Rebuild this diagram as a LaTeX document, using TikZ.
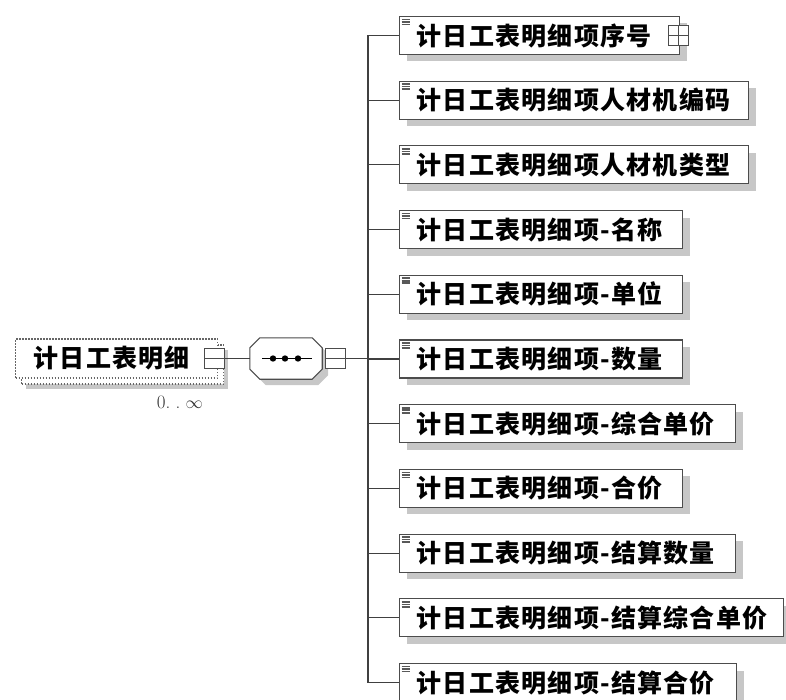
\documentclass[tikz,border=0pt]{standalone}
\usepackage{fontspec}
\newfontfamily\cjk{Noto Sans CJK SC}[LetterSpace=5]
\usetikzlibrary{positioning,shadows}

\begin{document}
\begin{tikzpicture}[
  x=1pt, y=-1pt,
  every node/.style={font=\cjk\bfseries\fontsize{25pt}{27pt}\selectfont},
  elem/.style={draw=black!70, line width=1.1pt, fill=white, anchor=west,
    minimum height=38pt, inner xsep=17pt, inner ysep=0pt, align=left,
    drop shadow={shadow xshift=7pt, shadow yshift=-7pt, fill=black!22, opacity=1},
    path picture={
      \foreach \d in {3,5.5,8}
        \draw[black!65, line width=1.6pt]
          ([shift={(2pt,-\d pt)}]path picture bounding box.north west) -- ++(8,0);
    }},
  multi/.style={draw=black!60, line width=1.2pt, dash pattern=on 1.5pt off 1.5pt,
    fill=white, anchor=west, minimum height=39pt, inner xsep=18pt, inner ysep=0pt,
    align=left,
    general shadow={shadow xshift=10pt, shadow yshift=-11pt, fill=black!22},
    general shadow={shadow xshift=6pt, shadow yshift=-6pt, fill=white,
      draw=black!60, line width=1.2pt, dash pattern=on 1.5pt off 1.5pt}},
  seq/.style={minimum width=72pt, minimum height=41pt, inner sep=0pt},
  octo/.style={draw=black!70, line width=1.1pt, fill=white,
    drop shadow={shadow xshift=6pt, shadow yshift=-6pt, fill=black!22, opacity=1}},
  tog/.style={draw=black!70, line width=1pt, fill=white, minimum width=20pt,
    minimum height=20pt, inner sep=0pt},
  minus/.style={tog, path picture={
    \draw[black!70, line width=1pt] (path picture bounding box.west) -- (path picture bounding box.east);}},
  plus/.style={tog, path picture={
    \draw[black!70, line width=1pt] (path picture bounding box.west) -- (path picture bounding box.east)
      (path picture bounding box.north) -- (path picture bounding box.south);}},
  lab/.style={font=\fontsize{19pt}{19pt}\selectfont, inner sep=0pt, text=black!80},
  conn/.style={draw=black!75, line width=1.1pt}
]
  \useasboundingbox (0,0) rectangle (786,700);

  % root element and sequence
  \node[multi, text width=166pt] (root) at (15,358.5) {计日工表明细};
  \node[minus, right=-14pt of root] (rtog) {};
  \node[lab, below left=17pt and 15pt of root.south east] (occ) {0.\;.\;$\infty$};

  \node[seq] (sq) at (286,358.5) {};
  \draw[octo] ([xshift=10pt]sq.north west) -- ([xshift=-10pt]sq.north east)
    -- ([yshift=-10pt]sq.north east) -- ([yshift=10pt]sq.south east)
    -- ([xshift=-10pt]sq.south east) -- ([xshift=10pt]sq.south west)
    -- ([yshift=10pt]sq.south west) -- ([yshift=-10pt]sq.north west) -- cycle;
  \node[minus, right=3pt of sq] (stog) {};
  \coordinate (trunk) at (368,358.5);

  \draw[line width=1.5pt] ([xshift=-24pt]sq.center) -- ([xshift=26pt]sq.center);
  \fill ([xshift=-13pt]sq.center) circle (3.2pt);
  \fill ([xshift=-1pt]sq.center) circle (3.2pt);
  \fill ([xshift=12pt]sq.center) circle (3.2pt);

  % child elements
  \node[elem, text width=246pt] (c1) at (399,35.5) {计日工表明细项序号};
  \node[plus, right=-12pt of c1] (c1tog) {};
  \node[elem, text width=315pt] (c2) at (399,100.2) {计日工表明细项人材机编码};
  \node[elem, text width=315pt] (c3) at (399,164.9) {计日工表明细项人材机类型};
  \node[elem, text width=249pt] (c4) at (399,229.6) {计日工表明细项-名称};
  \node[elem, text width=249pt] (c5) at (399,294.3) {计日工表明细项-单位};
  \node[elem, text width=249pt] (c6) at (399,359) {计日工表明细项-数量};
  \node[elem, text width=302pt] (c7) at (399,423.7) {计日工表明细项-综合单价};
  \node[elem, text width=249pt] (c8) at (399,488.4) {计日工表明细项-合价};
  \node[elem, text width=302pt] (c9) at (399,553.1) {计日工表明细项-结算数量};
  \node[elem, text width=350pt] (c10) at (399,617.8) {计日工表明细项-结算综合单价};
  \node[elem, text width=303pt] (c11) at (399,682.5) {计日工表明细项-结算合价};

  \draw[conn] (rtog) -- (sq);
  \draw[conn] (stog) -- (trunk);
  \draw[conn] (trunk) |- (c1);
  \draw[conn] (trunk) |- (c2);
  \draw[conn] (trunk) |- (c3);
  \draw[conn] (trunk) |- (c4);
  \draw[conn] (trunk) |- (c5);
  \draw[conn] (trunk) |- (c6);
  \draw[conn] (trunk) |- (c7);
  \draw[conn] (trunk) |- (c8);
  \draw[conn] (trunk) |- (c9);
  \draw[conn] (trunk) |- (c10);
  \draw[conn] (trunk) |- (c11);
\end{tikzpicture}
\end{document}
